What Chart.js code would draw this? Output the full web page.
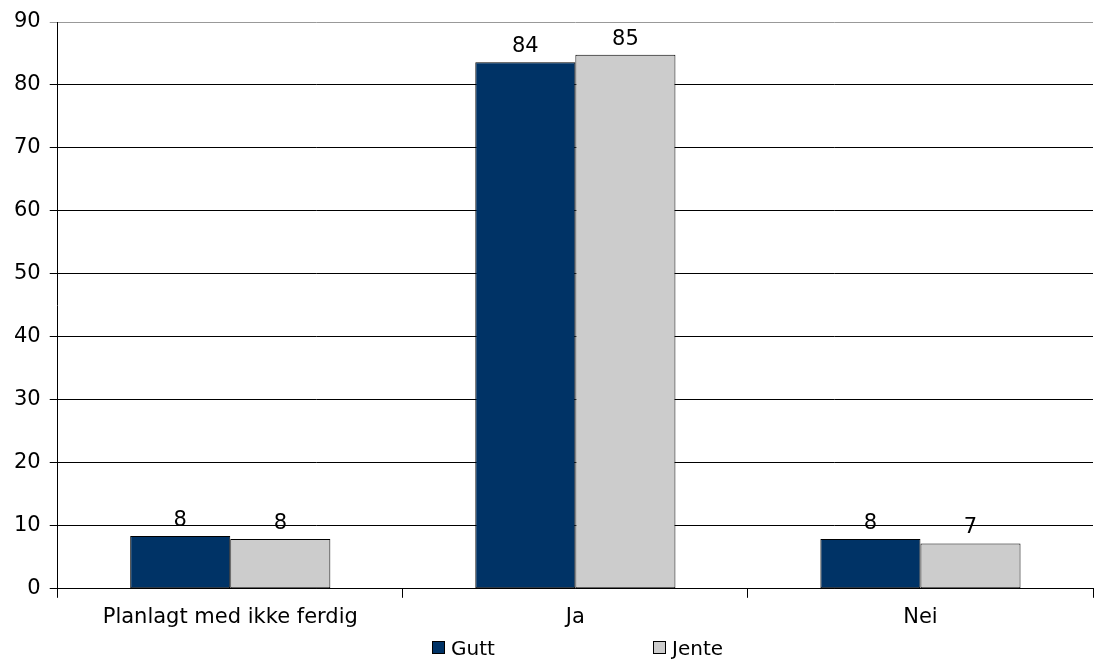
<!DOCTYPE html>
<html>
<head>
<meta charset="utf-8">
<script src="https://cdn.jsdelivr.net/npm/chart.js@4"></script>
<style>
  html, body { margin:0; padding:0; background:#fff; }
  #wrap { position:relative; width:1095px; height:659px; }
  #legende { position:absolute; top:636px; left:0; width:1095px; height:24px;
    font-family:'DejaVu Sans', Verdana, sans-serif; font-size:20px; color:#000; }
  #legende span { position:absolute; top:0; line-height:24px; white-space:nowrap; }
  #legende i { display:inline-block; width:11px; height:11px; border:1px solid #000;
    margin-right:6px; vertical-align:middle; position:relative; top:-2px; }
</style>
</head>
<body>
<div id="wrap">
  <canvas id="chart"></canvas>
  <div id="legende"></div>
</div>
<script>
// données
const kategorier = ['Planlagt med ikke ferdig', 'Ja', 'Nei'];
const gutt = [8.4, 83.6, 7.9];
const jente = [7.9, 84.8, 7.2];
const yTicks = [0, 10, 20, 30, 40, 50, 60, 70, 80, 90];
const farger = ['#003366', '#cccccc'];

const police = "'DejaVu Sans', Verdana, sans-serif";
const taille = 21;

// étiquettes au-dessus des barres
const etiquettes = {
  id: 'etiquettes',
  afterDatasetsDraw(chart) {
    const ctx = chart.ctx;
    ctx.save();
    ctx.font = taille + 'px ' + police;
    ctx.fillStyle = '#000';
    ctx.textAlign = 'center';
    ctx.textBaseline = 'bottom';
    chart.data.datasets.forEach((ds, i) => {
      chart.getDatasetMeta(i).data.forEach((bar, j) => {
        ctx.fillText(Math.round(ds.data[j]), bar.x, bar.y - 5);
      });
    });
    ctx.restore();
  }
};

const chart = new Chart(document.getElementById('chart'), {
  type: 'bar',
  data: {
    labels: kategorier,
    datasets: [
      { label: 'Gutt', data: gutt, backgroundColor: farger[0], borderColor: '#000', borderWidth: 1, borderSkipped: false },
      { label: 'Jente', data: jente, backgroundColor: farger[1], borderColor: '#000', borderWidth: 1, borderSkipped: false }
    ]
  },
  options: {
    responsive: true,
    maintainAspectRatio: false,
    animation: false,
    layout: { padding: { top: 22, right: 2, left: 5, bottom: 22 } },
    datasets: { bar: { categoryPercentage: 0.58, barPercentage: 1 } },
    scales: {
      x: {
        offset: true,
        grid: { offset: true, drawOnChartArea: false, color: '#000', tickLength: 9 },
        border: { color: '#000' },
        ticks: { color: '#000', font: { family: police, size: taille }, padding: 7 }
      },
      y: {
        min: 0, max: 90,
        afterBuildTicks: ax => { ax.ticks = yTicks.map(v => ({ value: v })); },
        grid: { color: ctx => ctx.tick && ctx.tick.value === 90 ? '#999' : '#000', tickLength: 8 },
        border: { color: '#000' },
        ticks: { color: '#000', font: { family: police, size: taille }, padding: 9 }
      }
    },
    plugins: {
      legend: { display: false },
      tooltip: { enabled: false }
    }
  },
  plugins: [etiquettes]
});

// légende HTML sous le graphique
const legende = document.getElementById('legende');
const positionsLegende = [432, 653];
chart.data.datasets.forEach((ds, i) => {
  const s = document.createElement('span');
  s.style.left = positionsLegende[i] + 'px';
  s.innerHTML = `<i style="background:${farger[i]}"></i>${ds.label}`;
  legende.appendChild(s);
});
</script>
</body>
</html>
